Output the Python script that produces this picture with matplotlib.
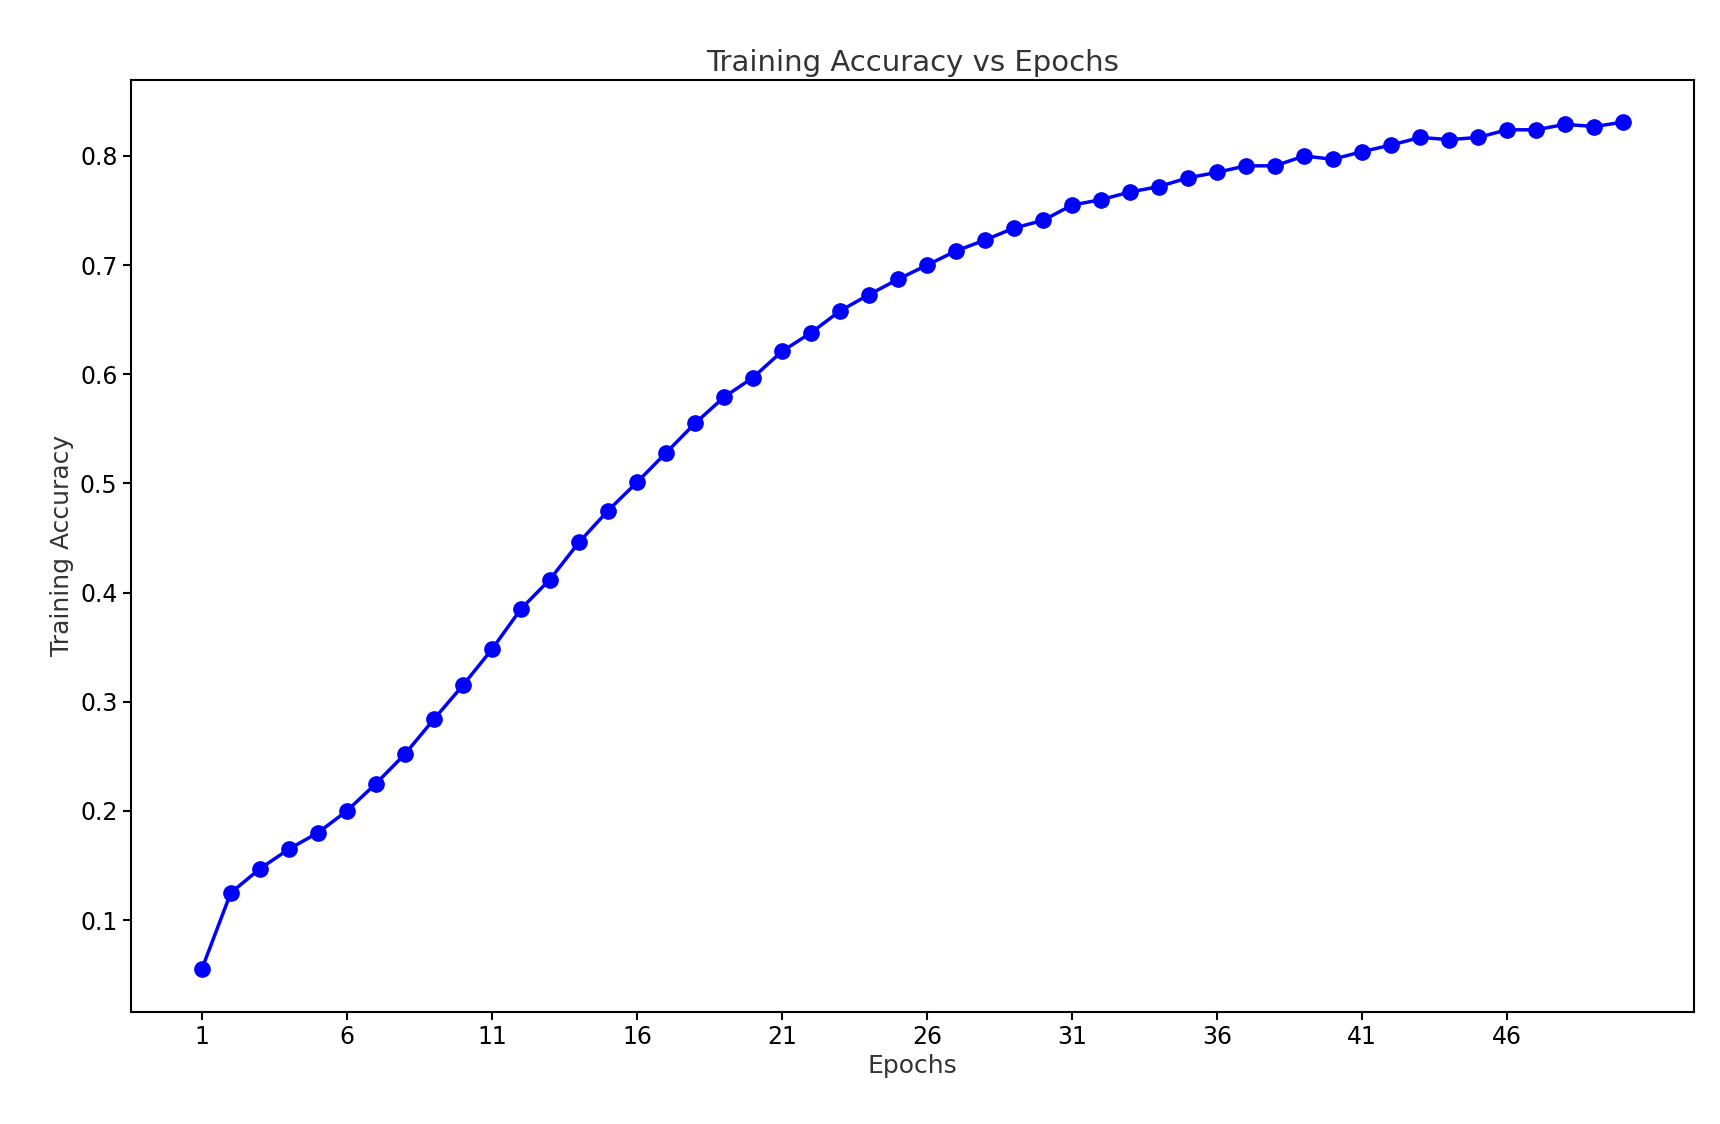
import matplotlib
matplotlib.use("Agg")
import matplotlib.pyplot as plt

epochs = list(range(1, 51))
accuracy = [0.055, 0.125, 0.147, 0.165, 0.180, 0.200, 0.225, 0.252, 0.284, 0.315,
            0.348, 0.385, 0.412, 0.446, 0.475, 0.501, 0.528, 0.555, 0.579, 0.597,
            0.621, 0.638, 0.658, 0.673, 0.687, 0.700, 0.713, 0.723, 0.734, 0.741,
            0.755, 0.760, 0.767, 0.772, 0.780, 0.785, 0.791, 0.791, 0.800, 0.797,
            0.804, 0.810, 0.817, 0.815, 0.817, 0.824, 0.824, 0.829, 0.827, 0.831]
xticks = list(range(1, 51, 5))

fig = plt.figure(figsize=(17.2, 11.24), dpi=100)
ax = fig.add_axes([0.076, 0.10, 0.909, 0.829])
ax.plot(epochs, accuracy, color="blue", marker="o", markersize=11, linewidth=2.5)
ax.set_xticks(xticks)
ax.set_yticks([0.1, 0.2, 0.3, 0.4, 0.5, 0.6, 0.7, 0.8])
ax.tick_params(labelsize=17, length=6, width=1.5)
for s in ax.spines.values():
    s.set_linewidth(1.5)
ax.set_xlabel("Epochs", fontsize=18, color="#333333")
ax.set_ylabel("Training Accuracy", fontsize=18, color="#333333")
ax.set_title("Training Accuracy vs Epochs", fontsize=21, color="#333333")
fig.savefig("out.png", dpi=100)
